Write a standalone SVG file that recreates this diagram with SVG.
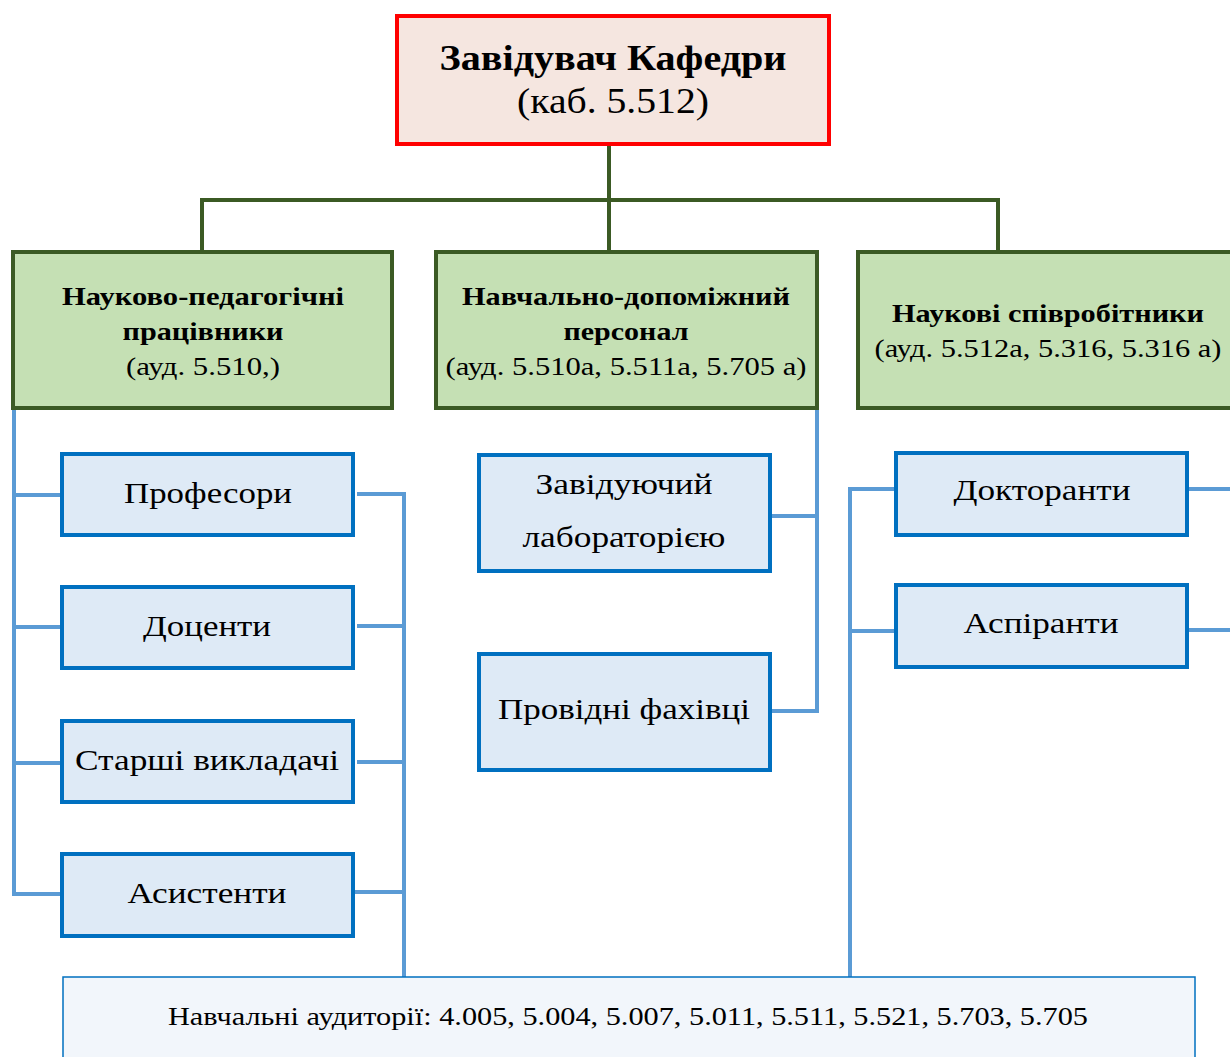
<svg xmlns="http://www.w3.org/2000/svg" width="1230" height="1057" viewBox="0 0 1230 1057">
<style>
  text { fill: #000; text-anchor: middle; }
  .b { font-weight: bold; }
  .top { fill: #f5e6e0; stroke: #ff0000; stroke-width: 4; }
  .grp { fill: #c5e0b4; stroke: #3b5a24; stroke-width: 4; }
  .sub { fill: #deeaf6; stroke: #0070c0; stroke-width: 4; }
  .aud { fill: #f2f6fb; stroke: #0070c0; stroke-width: 1.5; }
  .gl { fill: none; stroke: #3b5a24; stroke-width: 4; }
  .bl { fill: none; stroke: #5b9bd5; stroke-width: 4; }
</style>
<rect width="1230" height="1057" fill="#ffffff"/>
<g id="connectors">
  <path class="gl" d="M609 146 V250 M202 250 V200 H998 V250"/>
  <path class="bl" d="M14 409 V894 H62 M14 495 H62 M14 627 H62 M14 763 H62"/>
  <path class="bl" d="M357 494 H404 V977 M357 626 H404 M357 762 H404 M355 892 H404"/>
  <path class="bl" d="M817 409 V711 H770 M770 516 H817"/>
  <path class="bl" d="M850 977 V489 H895 M850 631 H895 M1188 489 H1230 M1188 630 H1230"/>
</g>
<g id="nodes" font-family="Liberation Serif, Tinos, Times New Roman, Nimbus Roman, serif">
<g id="head">
  <rect class="top" x="397" y="16" width="432" height="128"/>
  <text class="b" x="613" y="70" font-size="35" textLength="347" lengthAdjust="spacingAndGlyphs">Завідувач Кафедри</text>
  <text x="613" y="113" font-size="35" textLength="192" lengthAdjust="spacingAndGlyphs">(каб. 5.512)</text>
</g>
<g id="npp">
  <rect class="grp" x="13" y="252" width="379" height="156"/>
  <text class="b" x="203" y="305" font-size="26" textLength="282" lengthAdjust="spacingAndGlyphs">Науково-педагогічні</text>
  <text class="b" x="203" y="340" font-size="26" textLength="161" lengthAdjust="spacingAndGlyphs">працівники</text>
  <text x="203" y="375" font-size="26" textLength="154" lengthAdjust="spacingAndGlyphs">(ауд. 5.510,)</text>
</g>
<g id="ndp">
  <rect class="grp" x="436" y="252" width="381" height="156"/>
  <text class="b" x="626" y="305" font-size="26" textLength="328" lengthAdjust="spacingAndGlyphs">Навчально-допоміжний</text>
  <text class="b" x="626" y="340" font-size="26" textLength="125" lengthAdjust="spacingAndGlyphs">персонал</text>
  <text x="626" y="375" font-size="26" textLength="361" lengthAdjust="spacingAndGlyphs">(ауд. 5.510а, 5.511а, 5.705 а)</text>
</g>
<g id="ns">
  <rect class="grp" x="858" y="252" width="382" height="156"/>
  <text class="b" x="1048" y="322" font-size="26" textLength="312" lengthAdjust="spacingAndGlyphs">Наукові співробітники</text>
  <text x="1048" y="357" font-size="26" textLength="347" lengthAdjust="spacingAndGlyphs">(ауд. 5.512а, 5.316, 5.316 а)</text>
</g>
<g id="prof">
  <rect class="sub" x="62" y="454" width="291" height="81"/>
  <text x="208" y="503" font-size="30" textLength="168" lengthAdjust="spacingAndGlyphs">Професори</text>
</g>
<g id="doc">
  <rect class="sub" x="62" y="587" width="291" height="81"/>
  <text x="207" y="636" font-size="30" textLength="128" lengthAdjust="spacingAndGlyphs">Доценти</text>
</g>
<g id="stv">
  <rect class="sub" x="62" y="721" width="291" height="81"/>
  <text x="207" y="770" font-size="30" textLength="264" lengthAdjust="spacingAndGlyphs">Старші викладачі</text>
</g>
<g id="asys">
  <rect class="sub" x="62" y="854" width="291" height="82"/>
  <text x="207" y="903" font-size="30" textLength="159" lengthAdjust="spacingAndGlyphs">Асистенти</text>
</g>
<g id="zavlab">
  <rect class="sub" x="479" y="455" width="291" height="116"/>
  <text x="624" y="494" font-size="30" textLength="177" lengthAdjust="spacingAndGlyphs">Завідуючий</text>
  <text x="624" y="547" font-size="30" textLength="203" lengthAdjust="spacingAndGlyphs">лабораторією</text>
</g>
<g id="provid">
  <rect class="sub" x="479" y="654" width="291" height="116"/>
  <text x="624" y="719" font-size="30" textLength="252" lengthAdjust="spacingAndGlyphs">Провідні фахівці</text>
</g>
<g id="doktor">
  <rect class="sub" x="896" y="453" width="291" height="82"/>
  <text x="1042" y="500" font-size="30" textLength="177" lengthAdjust="spacingAndGlyphs">Докторанти</text>
</g>
<g id="aspir">
  <rect class="sub" x="896" y="585" width="291" height="82"/>
  <text x="1041" y="633" font-size="30" textLength="155" lengthAdjust="spacingAndGlyphs">Аспіранти</text>
</g>
<g id="auditorii">
  <rect class="aud" x="63" y="977" width="1132" height="90"/>
  <text x="628" y="1025" font-size="26" textLength="920" lengthAdjust="spacingAndGlyphs">Навчальні аудиторії: 4.005, 5.004, 5.007, 5.011, 5.511, 5.521, 5.703, 5.705</text>
</g>
</g>
</svg>
